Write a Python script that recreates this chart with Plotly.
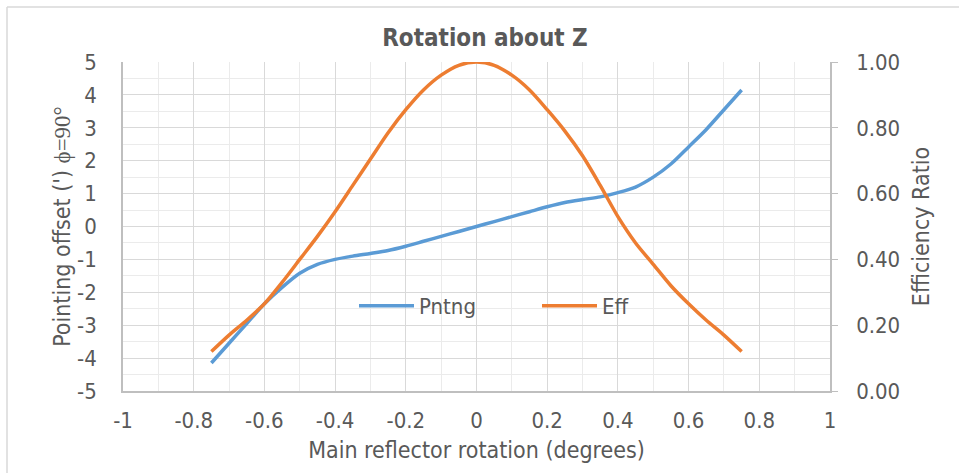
import plotly.graph_objects as go

rotation = [-0.75, -0.70, -0.65, -0.60, -0.55, -0.50, -0.45, -0.40, -0.35, -0.30, -0.25, -0.20, -0.15, -0.10, -0.05,
            0.0, 0.05, 0.10, 0.15, 0.20, 0.25, 0.30, 0.35, 0.40, 0.45, 0.50, 0.55, 0.60, 0.65, 0.70, 0.75]
pntng = [-4.15, -3.55, -2.95, -2.35, -1.85, -1.42, -1.15, -1.00, -0.90, -0.82, -0.73, -0.60, -0.45, -0.30, -0.15,
         0.0, 0.15, 0.30, 0.45, 0.60, 0.73, 0.82, 0.90, 1.03, 1.20, 1.50, 1.90, 2.42, 2.95, 3.55, 4.15]
eff = [0.12, 0.17, 0.215, 0.265, 0.33, 0.40, 0.47, 0.545, 0.625, 0.705, 0.785, 0.855, 0.915, 0.96, 0.99,
       1.00, 0.99, 0.96, 0.915, 0.855, 0.79, 0.715, 0.625, 0.53, 0.45, 0.385, 0.32, 0.265, 0.215, 0.17, 0.12]

x_ticks = [-1, -0.8, -0.6, -0.4, -0.2, 0, 0.2, 0.4, 0.6, 0.8, 1]
left_ticks = [-5, -4, -3, -2, -1, 0, 1, 2, 3, 4, 5]
right_ticks = [0.0, 0.2, 0.4, 0.6, 0.8, 1.0]

FONT = "Liberation Sans Narrow, DejaVu Sans Condensed, Lato, sans-serif"
GREY = "#595959"

fig = go.Figure()
fig.add_trace(go.Scatter(x=rotation, y=pntng, name="Pntng", mode="lines",
                         line=dict(color="#5b9bd5", width=3.5, shape="spline", smoothing=0.8)))
fig.add_trace(go.Scatter(x=rotation, y=eff, name="Eff", mode="lines", yaxis="y2",
                         line=dict(color="#ed7d31", width=3.5, shape="spline", smoothing=0.8)))

L, R, T, B = 123, 129, 62, 82
W, H = 959, 473
pw, ph = W - L - R, H - T - B

def px(xp):
    return (xp - L) / pw

def py(yp):
    return (H - B - yp) / ph

fig.update_layout(
    width=W, height=H,
    margin=dict(l=L, r=R, t=T, b=B),
    paper_bgcolor="white", plot_bgcolor="white",
    font=dict(family=FONT, color=GREY, size=22),
    title=dict(text="<b>Rotation about Z</b>", xref="container", x=485 / W, xanchor="center",
               y=1 - 38 / H, yanchor="middle", font=dict(size=24, color=GREY, family=FONT)),
    xaxis=dict(range=[-1, 1], tickvals=x_ticks, ticktext=[f"{v:g}" for v in x_ticks],
               showgrid=True, gridcolor="#d9d9d9", gridwidth=1.3,
               minor=dict(dtick=0.1, showgrid=True, gridcolor="#ebebeb", gridwidth=1.3),
               showline=True, linecolor="#bfbfbf", linewidth=1.5, zeroline=False,
               ticks="", tickfont=dict(size=22), ticklabelstandoff=9,
               title=dict(text="Main reflector rotation (degrees)", font=dict(size=23), standoff=10)),
    yaxis=dict(range=[-5, 5], tickvals=left_ticks, ticktext=[f"{v:d}" for v in left_ticks],
               showgrid=True, gridcolor="#d9d9d9", gridwidth=1.3,
               minor=dict(dtick=0.5, showgrid=True, gridcolor="#ebebeb", gridwidth=1.3),
               showline=True, linecolor="#bfbfbf", linewidth=1.5, zeroline=False,
               ticks="", tickfont=dict(size=22), ticklabelstandoff=20,
               title=dict(text="Pointing offset (') <span style='font-family:Liberation Serif'>ϕ=90°</span>",
                          font=dict(size=23), standoff=0)),
    yaxis2=dict(range=[0, 1], tickvals=right_ticks, ticktext=[f"{v:.2f}" for v in right_ticks],
                overlaying="y", side="right", showgrid=False, zeroline=False,
                showline=True, linecolor="#bfbfbf", linewidth=1.5,
                ticks="outside", ticklen=6, tickcolor="#bfbfbf", tickfont=dict(size=22),
                ticklabelstandoff=14,
                title=dict(text="Efficiency Ratio", font=dict(size=23), standoff=14)),
    legend=dict(orientation="h", x=px(354), xanchor="left", y=py(306), yanchor="middle",
                bgcolor="rgba(255,255,255,0)", entrywidth=113, entrywidthmode="pixels",
                font=dict(size=22, color=GREY), itemwidth=55),
    shapes=[
        dict(type="line", xref="paper", yref="paper", x0=px(7), x1=px(W + 5), y0=py(7), y1=py(7),
             line=dict(color="#d9d9d9", width=1.5)),
        dict(type="line", xref="paper", yref="paper", x0=px(7), x1=px(7), y0=py(7), y1=py(H + 5),
             line=dict(color="#d9d9d9", width=1.5)),
    ],
)

fig.write_html("out.html")
